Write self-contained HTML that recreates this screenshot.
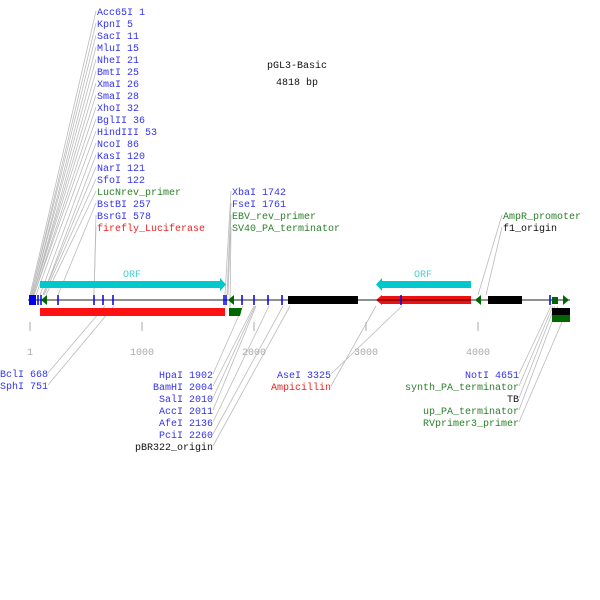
<!DOCTYPE html>
<html><head><meta charset="utf-8"><style>
html,body{margin:0;padding:0;background:#fff;}
svg{display:block;}
text{font-family:"Liberation Mono",monospace;font-size:10px;}
.b{fill:#3333ee}.g{fill:#2a7f2a}.r{fill:#ee2222}.k{fill:#111}
</style></head><body>
<svg width="600" height="600" xmlns="http://www.w3.org/2000/svg">
<rect width="600" height="600" fill="#fff"/>
<g stroke="#bbb" stroke-width="0.8" fill="none">
<!-- top-left connectors -->
<line x1="96" y1="11" x2="30" y2="295"/>
<line x1="96" y1="23" x2="31" y2="295"/>
<line x1="96" y1="35" x2="31" y2="295"/>
<line x1="96" y1="47" x2="32" y2="295"/>
<line x1="96" y1="59" x2="32" y2="295"/>
<line x1="96" y1="71" x2="33" y2="295"/>
<line x1="96" y1="83" x2="33" y2="295"/>
<line x1="96" y1="95" x2="33" y2="295"/>
<line x1="96" y1="107" x2="34" y2="295"/>
<line x1="96" y1="119" x2="34" y2="295"/>
<line x1="96" y1="131" x2="36" y2="295"/>
<line x1="96" y1="143" x2="40" y2="295"/>
<line x1="96" y1="155" x2="43" y2="295"/>
<line x1="96" y1="167" x2="43" y2="295"/>
<line x1="96" y1="179" x2="44" y2="295"/>
<line x1="96" y1="191" x2="46" y2="295"/>
<line x1="96" y1="203" x2="58" y2="295"/>
<line x1="96" y1="215" x2="94" y2="295"/>
<line x1="96" y1="227" x2="94" y2="295"/>
<!-- middle -->
<line x1="231" y1="191" x2="225" y2="295"/>
<line x1="231" y1="203" x2="227" y2="295"/>
<line x1="231" y1="215" x2="228" y2="295"/>
<line x1="231" y1="227" x2="230" y2="308"/>
<!-- right top -->
<line x1="502" y1="215" x2="478" y2="295"/>
<line x1="502" y1="227" x2="486" y2="295"/>
<!-- bottom left -->
<line x1="48" y1="373" x2="105" y2="306"/>
<line x1="48" y1="385" x2="114" y2="306"/>
<!-- bottom middle -->
<line x1="213" y1="374" x2="243" y2="306"/>
<line x1="213" y1="386" x2="254" y2="306"/>
<line x1="213" y1="398" x2="255" y2="306"/>
<line x1="213" y1="410" x2="256" y2="306"/>
<line x1="213" y1="422" x2="269" y2="306"/>
<line x1="213" y1="434" x2="283" y2="306"/>
<line x1="213" y1="446" x2="290" y2="306"/>
<line x1="331" y1="374" x2="402" y2="306"/>
<line x1="331" y1="386" x2="376" y2="306"/>
<!-- bottom right -->
<line x1="519" y1="374" x2="551" y2="306"/>
<line x1="519" y1="386" x2="553" y2="306"/>
<line x1="519" y1="398" x2="555" y2="306"/>
<line x1="519" y1="410" x2="558" y2="306"/>
<line x1="519" y1="422" x2="565" y2="315"/>
</g>
<!-- backbone -->
<line x1="28" y1="300" x2="570" y2="300" stroke="#222" stroke-width="1"/>
<!-- ORF arrows -->
<polygon points="40,281 220,281 220,278 226,284.5 220,291 220,288 40,288" fill="#00c8cc"/>
<text x="123" y="277" fill="#44d0d4" font-size="10">ORF</text>
<polygon points="471,281 382,281 382,278 376,284.5 382,291 382,288 471,288" fill="#00c8cc"/>
<text x="414" y="277" fill="#44d0d4" font-size="10">ORF</text>
<!-- black bars -->
<rect x="288" y="296" width="70" height="8" fill="#000"/>
<rect x="488" y="296" width="34" height="8" fill="#000"/>
<!-- Amp -->
<polygon points="471,296 382,296 382,295 376,300 382,305 382,304 471,304" fill="#ee1111"/>
<line x1="376" y1="300" x2="471" y2="300" stroke="#400" stroke-width="1"/>
<!-- red firefly bar -->
<rect x="40" y="308" width="185" height="8" fill="#ff1111"/>
<polygon points="229,308 242,308 240,316 229,316" fill="#006600"/>
<!-- green triangles -->
<polygon points="41,300 47,295 47,305" fill="#006600"/>
<polygon points="228,300 234,295 234,305" fill="#006600"/>
<polygon points="475,300 481,295 481,305" fill="#006600"/>
<polygon points="569,300 563,295 563,305" fill="#006600"/>
<rect x="552" y="297" width="6" height="7" fill="#006600"/>
<rect x="552" y="308" width="18" height="7" fill="#000"/>
<rect x="552" y="315" width="18" height="7" fill="#006600"/>
<!-- blue square & ticks -->
<rect x="29" y="295" width="7" height="10" fill="#0000ee"/>
<g stroke="#0000ee" stroke-width="1.5">
<line x1="38" y1="295" x2="38" y2="305"/>
<line x1="41" y1="295" x2="41" y2="305"/>
<line x1="58" y1="295" x2="58" y2="305"/>
<line x1="94" y1="295" x2="94" y2="305"/>
<line x1="103" y1="295" x2="103" y2="305"/>
<line x1="113" y1="295" x2="113" y2="305"/>
<line x1="224" y1="295" x2="224" y2="305"/>
<line x1="226" y1="295" x2="226" y2="305"/>
<line x1="242" y1="295" x2="242" y2="305"/>
<line x1="254" y1="295" x2="254" y2="305"/>
<line x1="268" y1="295" x2="268" y2="305"/>
<line x1="282" y1="295" x2="282" y2="305"/>
<line x1="401" y1="295" x2="401" y2="305"/>
<line x1="550" y1="295" x2="550" y2="305"/>
</g>
<!-- scale -->
<g stroke="#aaa" stroke-width="1">
<line x1="30" y1="322" x2="30" y2="331"/>
<line x1="142" y1="322" x2="142" y2="331"/>
<line x1="254" y1="322" x2="254" y2="331"/>
<line x1="366" y1="322" x2="366" y2="331"/>
<line x1="478" y1="322" x2="478" y2="331"/>
</g>
<g fill="#aaa" text-anchor="middle">
<text x="30" y="355">1</text>
<text x="142" y="355">1000</text>
<text x="254" y="355">2000</text>
<text x="366" y="355">3000</text>
<text x="478" y="355">4000</text>
</g>
<!-- title -->
<text x="297" y="68" text-anchor="middle" class="k">pGL3-Basic</text>
<text x="297" y="85" text-anchor="middle" class="k">4818 bp</text>
<!-- top-left labels -->
<g>
<text x="97" y="15" class="b">Acc65I 1</text>
<text x="97" y="27" class="b">KpnI 5</text>
<text x="97" y="39" class="b">SacI 11</text>
<text x="97" y="51" class="b">MluI 15</text>
<text x="97" y="63" class="b">NheI 21</text>
<text x="97" y="75" class="b">BmtI 25</text>
<text x="97" y="87" class="b">XmaI 26</text>
<text x="97" y="99" class="b">SmaI 28</text>
<text x="97" y="111" class="b">XhoI 32</text>
<text x="97" y="123" class="b">BglII 36</text>
<text x="97" y="135" class="b">HindIII 53</text>
<text x="97" y="147" class="b">NcoI 86</text>
<text x="97" y="159" class="b">KasI 120</text>
<text x="97" y="171" class="b">NarI 121</text>
<text x="97" y="183" class="b">SfoI 122</text>
<text x="97" y="195" class="g">LucNrev_primer</text>
<text x="97" y="207" class="b">BstBI 257</text>
<text x="97" y="219" class="b">BsrGI 578</text>
<text x="97" y="231" class="r">firefly_Luciferase</text>
</g>
<text x="232" y="195" class="b">XbaI 1742</text>
<text x="232" y="207" class="b">FseI 1761</text>
<text x="232" y="219" class="g">EBV_rev_primer</text>
<text x="232" y="231" class="g">SV40_PA_terminator</text>
<text x="503" y="219" class="g">AmpR_promoter</text>
<text x="503" y="231" class="k">f1_origin</text>
<text x="0" y="377" class="b">BclI 668</text>
<text x="0" y="389" class="b">SphI 751</text>
<g text-anchor="end">
<text x="213" y="378" class="b">HpaI 1902</text>
<text x="213" y="390" class="b">BamHI 2004</text>
<text x="213" y="402" class="b">SalI 2010</text>
<text x="213" y="414" class="b">AccI 2011</text>
<text x="213" y="426" class="b">AfeI 2136</text>
<text x="213" y="438" class="b">PciI 2260</text>
<text x="213" y="450" class="k">pBR322_origin</text>
<text x="331" y="378" class="b">AseI 3325</text>
<text x="331" y="390" class="r">Ampicillin</text>
<text x="519" y="378" class="b">NotI 4651</text>
<text x="519" y="390" class="g">synth_PA_terminator</text>
<text x="519" y="402" class="k">TB</text>
<text x="519" y="414" class="g">up_PA_terminator</text>
<text x="519" y="426" class="g">RVprimer3_primer</text>
</g>
</svg>
</body></html>
